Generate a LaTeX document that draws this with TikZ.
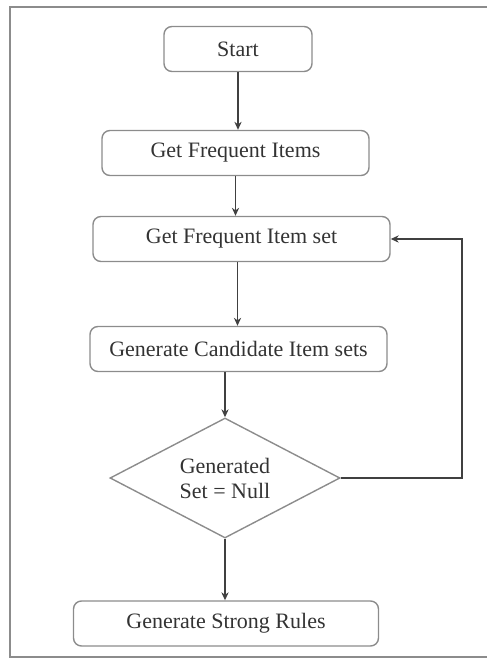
\documentclass[tikz,border=0pt]{standalone}
\usepackage{fontspec}
\setmainfont{Liberation Serif}
\usetikzlibrary{shapes.geometric, arrows.meta, positioning, calc}
\tikzset{
    stepbox/.style={
        draw=black!45,
        line width=0.7pt,
        rounded corners=4pt,
        minimum height=22.5pt,
        inner sep=2pt,
        font=\fontsize{11}{12}\selectfont,
        text=black!80,
    },
    decide/.style={
        draw=black!45,
        line width=0.7pt,
        shape=diamond,
        aspect=1.9,
        minimum width=115pt,
        minimum height=60pt,
        inner sep=0pt,
        align=center,
        font=\fontsize{11}{12.5}\selectfont,
        text=black!80,
    },
    flow/.style={
        draw=black!75,
        line width=0.75pt,
        -{Stealth[length=4pt,width=3.6pt]},
    }
}
\begin{document}
\begin{tikzpicture}[x=0.5pt,y=-0.5pt]

\useasboundingbox (0,0) rectangle (487,659);

% frame
\draw[black!45, line width=0.8pt] (10,7) rectangle (495,657);

\node[stepbox, minimum width=74pt] (start) at (238,49) {Start};
\node[stepbox, minimum width=133.5pt] (items) at (235.5,153) {Get Frequent Items};
\node[stepbox, minimum width=148.5pt] (itemset) at (241.5,239) {Get Frequent Item set};
\node[stepbox, minimum width=148.5pt] (cand) at (238.5,349) {Generate Candidate Item sets};
\node[decide] (null) at (225,478) {Generated\\Set = Null};
\node[stepbox, minimum width=152.5pt] (rules) at (226,623.5) {Generate Strong Rules};

\coordinate (loop) at (462,478);

\draw[flow] (start) -- (start |- items.north);
\draw[flow] (items) -- (items |- itemset.north);
\draw[flow] ($(itemset.south)+(-4,0)$) -- ($(itemset.south |- cand.north)+(-4,0)$);
\draw[flow] (cand.south -| null.north) -- (null.north);
\draw[flow] (null.south) -- (null.south |- rules.north);
\draw[flow] (null.east) -- (loop) |- (itemset.east);

\end{tikzpicture}
\end{document}
